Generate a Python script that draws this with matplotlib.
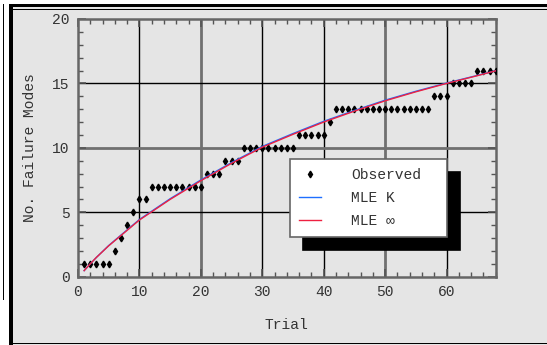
import numpy as np
import matplotlib
matplotlib.use('Agg')
import matplotlib.pyplot as plt
from matplotlib.patches import Rectangle

plt.rcParams['font.family'] = ['Liberation Mono', 'DejaVu Sans Mono']
plt.rcParams['font.size'] = 10.5

# observed failure modes per trial
trial = list(range(1, 69))
observed = ([1]*5 + [2, 3, 4, 5, 6, 6] + [7]*9 + [8]*3 + [9]*3 + [10]*9 +
            [11]*5 + [12] + [13]*16 + [14]*3 + [15]*4 + [16]*4)

# fitted curves
fit_x = [1, 2, 3, 4, 5, 7, 10, 15, 20, 25, 30, 35, 40, 45, 50, 55, 60, 65, 68]
mle_inf = [0.47, 1.0, 1.5, 1.95, 2.4, 3.2, 4.4, 6.0, 7.45, 8.8, 10.05, 11.05,
           12.0, 12.85, 13.65, 14.35, 15.0, 15.6, 15.98]
mle_k = [0.47, 1.0, 1.5, 1.96, 2.42, 3.23, 4.44, 6.05, 7.51, 8.86, 10.11, 11.11,
         12.06, 12.9, 13.7, 14.39, 15.03, 15.62, 15.99]

W, H = 547, 345
fig = plt.figure(figsize=(W/100, H/100), dpi=100, facecolor='#e5e5e5')

def px(x0, y0, w, h):
    return (x0/W, 1 - (y0 + h)/H, w/W, h/H)

def frame_rect(x0, y0, w, h, c):
    l, b, ww, hh = px(x0, y0, w, h)
    fig.add_artist(Rectangle((l, b), ww, hh, transform=fig.transFigure,
                             facecolor=c, edgecolor='none', zorder=0))

# outer frame
frame_rect(0, 0, 9, H, 'white')
frame_rect(0, 0, W, 4.5, 'white')
frame_rect(2.5, 4, 1.2, 296, 'black')
frame_rect(9, 4.5, 3.5, H, 'black')
frame_rect(9, 4.5, W, 2.5, 'black')
frame_rect(12.5, 8.5, W, 1.5, 'black')
frame_rect(9, 342.5, W, 1.5, 'black')

ax = fig.add_axes(px(78, 19, 417.7, 257.7))
ax.set_facecolor('#e5e5e5')
ax.set_xlim(0, 68)
ax.set_ylim(0, 20)

for g in [10, 30, 40, 60]:
    ax.axvline(g, color='black', lw=1.0, zorder=1)
for g in [20, 50]:
    ax.axvline(g, color='#707070', lw=2.0, zorder=1)
for g in [5, 15]:
    ax.axhline(g, color='black', lw=1.0, zorder=1)
ax.axhline(10, color='#707070', lw=2.0, zorder=1)

ax.plot(trial, observed, linestyle='none', marker='d', color='black',
        markersize=3.4, label='Observed', zorder=3)
ax.plot(fit_x, mle_k, color='#1e6fff', lw=1.0, label='MLE K', zorder=4)
ax.plot(fit_x, mle_inf, color='#ee2040', lw=1.0, label='MLE \u221e', zorder=5)

ax.set_xticks([0, 10, 20, 30, 40, 50, 60])
ax.set_xticks(np.arange(0, 69, 2), minor=True)
ax.set_yticks([0, 5, 10, 15, 20])
ax.set_yticks(np.arange(0, 21, 1), minor=True)
ax.tick_params(which='both', direction='in', top=True, right=True,
               color='#555555', labelcolor='#333333')
ax.tick_params(which='major', length=6, width=1.2, pad=6)
ax.tick_params(which='minor', length=3.5, width=1.0)
for s in ax.spines.values():
    s.set_color('#666666')
    s.set_linewidth(1.8)

ax.set_xlabel('Trial', labelpad=14, color='#333333')
ax.set_ylabel('No. Failure Modes', labelpad=11, color='#333333')

leg = ax.legend(loc='upper left', bbox_to_anchor=(0.5076, 0.456, 0.376, 0.0),
                mode='expand', borderaxespad=0, fancybox=False, framealpha=1,
                edgecolor='#666666', handlelength=1.5, handletextpad=2.1,
                labelspacing=0.62, borderpad=0.6,
                shadow={'ox': 9.4, 'oy': -9.4, 'color': 'black', 'alpha': 1})
leg.get_frame().set_linewidth(1.2)
for t in leg.get_texts():
    t.set_color('#333333')

fig.savefig('out.png', dpi=100, facecolor=fig.get_facecolor())
